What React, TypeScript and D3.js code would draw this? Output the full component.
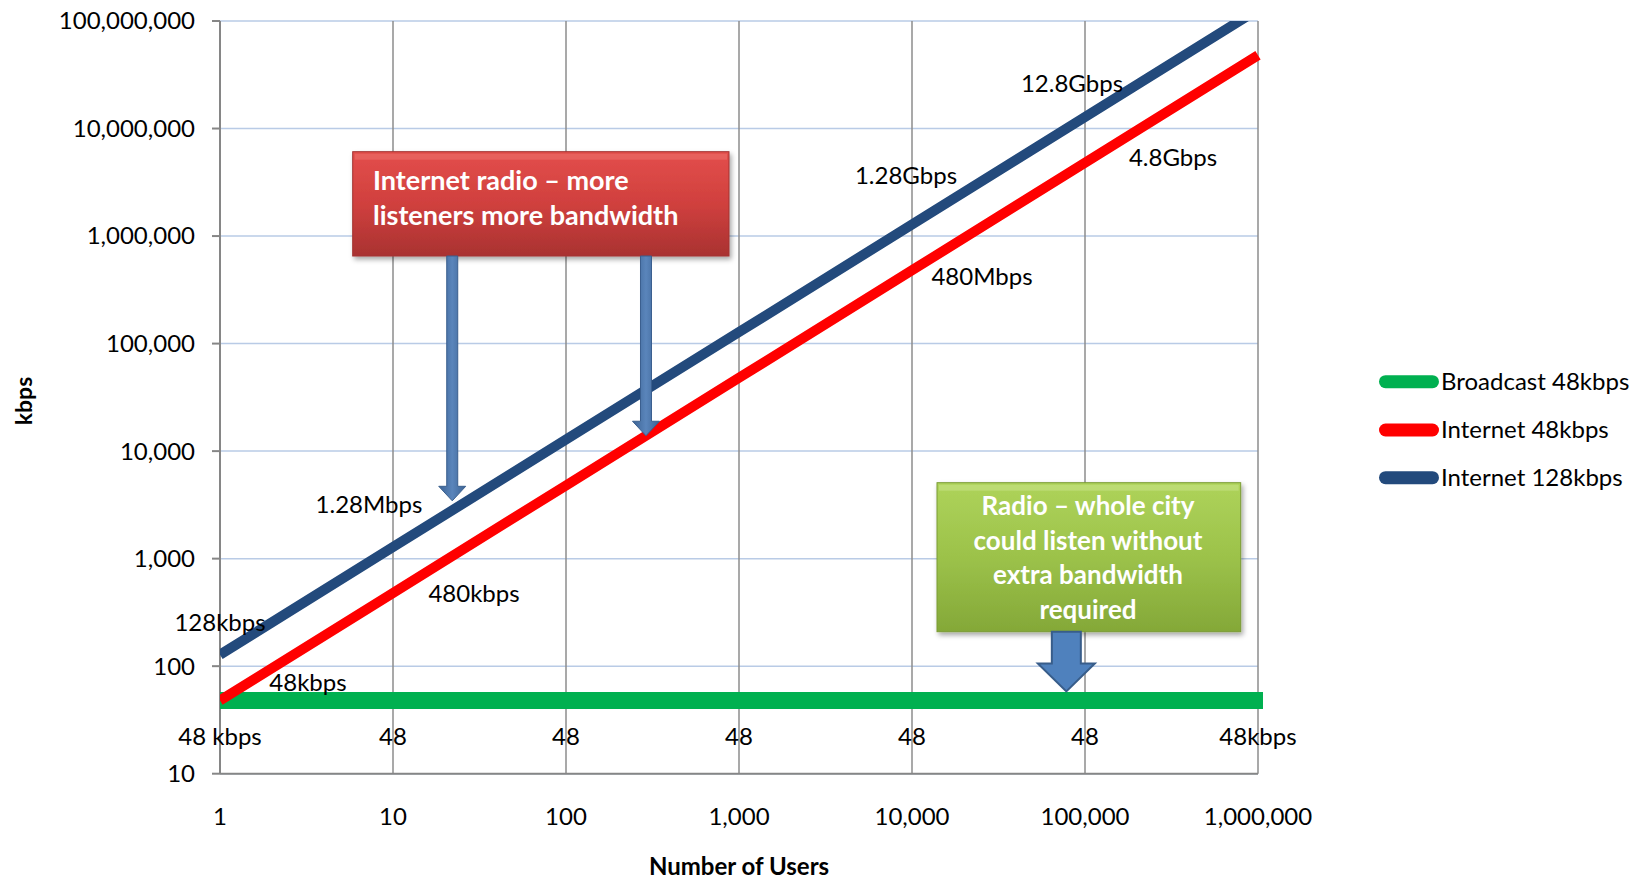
import React from "react";
import * as d3 from "d3";

// ---------- data ----------
const users = [1, 10, 100, 1000, 10000, 100000, 1000000];
const broadcast48 = [48, 48, 48, 48, 48, 48, 48];
const internet48 = [48, 480, 4800, 48000, 480000, 4800000, 48000000];
const internet128 = [128, 1280, 12800, 128000, 1280000, 12800000, 128000000];

const seriesNames = ["Broadcast 48kbps", "Internet 48kbps", "Internet 128kbps"];

const xTickValues = [1, 10, 100, 1000, 10000, 100000, 1000000];
const yTickValues = [10, 100, 1000, 10000, 100000, 1000000, 10000000, 100000000];

const blueLabelUsers = [1, 10, 10000, 100000];
const blueLabelTexts = ["128kbps", "1.28Mbps", "1.28Gbps", "12.8Gbps"];
const redLabelUsers = [1, 10, 10000, 100000];
const redLabelTexts = ["48kbps", "480kbps", "480Mbps", "4.8Gbps"];
const greenLabelTexts = ["48 kbps", "48", "48", "48", "48", "48", "48kbps"];

const redNoteLines = ["Internet radio \u2013 more", "listeners more bandwidth"];
const greenNoteLines = ["Radio \u2013 whole city", "could listen without", "extra bandwidth", "required"];

// ---------- style / layout ----------
const W = 1651;
const H = 883;
const M = { left: 220, right: 1258, top: 21, bottom: 773.7 };
const FONT = "Lato, 'Open Sans', sans-serif";
const FS = 24;
const COLORS = ["#00b050", "#ff0000", "#234a7c"];
const WIDTHS = [17, 10, 10];
const blueOffsets = [[0, -24], [-24, -34], [-6, -41], [-13, -25]];
const redOffsets = [[88, -9], [81, 9], [70, 15], [88, 3]];

export default function App() {
  const x = d3.scaleLog().domain([1, 1000000]).range([M.left, M.right]);
  const y = d3.scaleLog().domain([10, 100000000]).range([M.bottom, M.top]);
  const fmt = d3.format(",");

  const line = d3
    .line<[number, number]>()
    .x((d) => x(d[0]))
    .y((d) => y(d[1]));

  const series = [broadcast48, internet48, internet128].map((vals) =>
    users.map((u, i) => [u, vals[i]] as [number, number])
  );

  // annotation anchors in data space
  const arrow1X = x(22);
  const arrow1Tip = y(3450);
  const arrow2X = x(290);
  const arrow2Tip = y(13900);
  const redBox = { x0: 352.7, y0: 151.7, x1: 729, y1: 256 };
  const greenBox = { x0: 937, y0: 482.7, x1: 1240.7, y1: 631.7 };
  const blockX = x(78000);
  const blockTip = y(48) - 9;

  const thinArrow = (cx: number, top: number, tip: number) => {
    const hw = 13.5;
    const sw = 5.5;
    const hh = 14.5;
    return `M${cx - sw},${top} L${cx + sw},${top} L${cx + sw},${tip - hh} L${cx + hw},${tip - hh} L${cx},${tip} L${cx - hw},${tip - hh} L${cx - sw},${tip - hh} Z`;
  };
  const blockArrow = (cx: number, top: number, tip: number) => {
    const hw = 28.5;
    const sw = 14.5;
    const hh = 28;
    return `M${cx - sw},${top} L${cx + sw},${top} L${cx + sw},${tip - hh} L${cx + hw},${tip - hh} L${cx},${tip} L${cx - hw},${tip - hh} L${cx - sw},${tip - hh} Z`;
  };

  return (
    <svg
      width={W}
      height={H}
      style={{ position: "absolute", left: 0, top: 0, background: "#fff" }}
      fontFamily={FONT}
    >
      <defs>
        <clipPath id="plotClip">
          <rect x={M.left} y={M.top} width={M.right - M.left + 5} height={M.bottom - M.top} />
        </clipPath>
        <linearGradient id="redGrad" x1="0" y1="0" x2="0" y2="1">
          <stop offset="0" stopColor="#e34e4b" />
          <stop offset="0.5" stopColor="#d0403e" />
          <stop offset="1" stopColor="#a93231" />
        </linearGradient>
        <linearGradient id="greenGrad" x1="0" y1="0" x2="0" y2="1">
          <stop offset="0" stopColor="#aed35a" />
          <stop offset="0.5" stopColor="#9cc24a" />
          <stop offset="1" stopColor="#84a838" />
        </linearGradient>
        <linearGradient id="arrowGrad" x1="0" y1="0" x2="1" y2="0">
          <stop offset="0" stopColor="#3c6394" />
          <stop offset="0.5" stopColor="#5a85bb" />
          <stop offset="1" stopColor="#3c6394" />
        </linearGradient>
        <filter id="shadow" x="-10%" y="-10%" width="120%" height="130%">
          <feDropShadow dx="2" dy="3" stdDeviation="2.5" floodColor="#000" floodOpacity="0.35" />
        </filter>
      </defs>

      {/* horizontal gridlines */}
      {yTickValues.map((v) => (
        <line key={"hg" + v} x1={M.left} x2={M.right} y1={y(v)} y2={y(v)} stroke="#b9cbe6" strokeWidth={1.5} />
      ))}
      {/* vertical gridlines */}
      {xTickValues.map((v) => (
        <line key={"vg" + v} x1={x(v)} x2={x(v)} y1={M.top} y2={M.bottom} stroke="#8c8c8c" strokeWidth={1.5} />
      ))}
      {/* axes */}
      <line x1={M.left} x2={M.left} y1={M.top} y2={M.bottom} stroke="#868686" strokeWidth={2} />
      <line x1={M.left} x2={M.right} y1={M.bottom} y2={M.bottom} stroke="#868686" strokeWidth={2} />
      {yTickValues.map((v) => (
        <line key={"yt" + v} x1={M.left - 8} x2={M.left} y1={y(v)} y2={y(v)} stroke="#868686" strokeWidth={2} />
      ))}

      {/* y tick labels */}
      {yTickValues.map((v) => (
        <text key={"yl" + v} x={195} y={y(v)} dy="0.35em" textAnchor="end" fontSize={FS} fill="#000">
          {fmt(v)}
        </text>
      ))}
      {/* x tick labels */}
      {xTickValues.map((v) => (
        <text key={"xl" + v} x={x(v)} y={825} textAnchor="middle" fontSize={FS} fill="#000">
          {fmt(v)}
        </text>
      ))}

      {/* axis titles */}
      <text
        transform={`translate(32,${401}) rotate(-90)`}
        textAnchor="middle"
        fontSize={23}
        fontWeight="bold"
        fill="#000"
      >
        kbps
      </text>
      <text x={739} y={875} textAnchor="middle" fontSize={24} fontWeight="bold" fill="#000">
        Number of Users
      </text>

      {/* series lines */}
      <g clipPath="url(#plotClip)">
        {series.map((s, i) => (
          <path
            key={"s" + i}
            d={line(s) || ""}
            fill="none"
            stroke={COLORS[i]}
            strokeWidth={WIDTHS[i]}
            strokeLinecap={i === 0 ? "square" : "butt"}
          />
        ))}
      </g>

      {/* data labels */}
      {blueLabelUsers.map((u, i) => (
        <text
          key={"bl" + i}
          x={x(u) + blueOffsets[i][0]}
          y={y(internet128[users.indexOf(u)]) + blueOffsets[i][1]}
          textAnchor="middle"
          fontSize={FS}
          fill="#000"
        >
          {blueLabelTexts[i]}
        </text>
      ))}
      {redLabelUsers.map((u, i) => (
        <text
          key={"rl" + i}
          x={x(u) + redOffsets[i][0]}
          y={y(internet48[users.indexOf(u)]) + redOffsets[i][1]}
          textAnchor="middle"
          fontSize={FS}
          fill="#000"
        >
          {redLabelTexts[i]}
        </text>
      ))}
      {users.map((u, i) => (
        <text key={"gl" + i} x={x(u)} y={y(broadcast48[i]) + 44.5} textAnchor="middle" fontSize={FS} fill="#000">
          {greenLabelTexts[i]}
        </text>
      ))}

      {/* red callout */}
      <g filter="url(#shadow)">
        <rect
          x={redBox.x0}
          y={redBox.y0}
          width={redBox.x1 - redBox.x0}
          height={redBox.y1 - redBox.y0}
          fill="url(#redGrad)"
          stroke="#a23230"
          strokeWidth={1}
        />
      </g>
      <rect
        x={redBox.x0 + 2}
        y={redBox.y0 + 2}
        width={redBox.x1 - redBox.x0 - 4}
        height={6}
        fill="#f07a76"
        opacity={0.45}
      />
      {redNoteLines.map((t, i) => (
        <text key={"rn" + i} x={373} y={190 + i * 35} fontSize={27} fontWeight="bold" fill="#fff">
          {t}
        </text>
      ))}
      <path d={thinArrow(arrow1X, redBox.y1, arrow1Tip)} fill="url(#arrowGrad)" stroke="#3a5f8e" strokeWidth={1} />
      <path d={thinArrow(arrow2X, redBox.y1, arrow2Tip)} fill="url(#arrowGrad)" stroke="#3a5f8e" strokeWidth={1} />

      {/* green callout */}
      <g filter="url(#shadow)">
        <rect
          x={greenBox.x0}
          y={greenBox.y0}
          width={greenBox.x1 - greenBox.x0}
          height={greenBox.y1 - greenBox.y0}
          fill="url(#greenGrad)"
          stroke="#7b9c35"
          strokeWidth={1}
        />
      </g>
      <rect
        x={greenBox.x0 + 2}
        y={greenBox.y0 + 2}
        width={greenBox.x1 - greenBox.x0 - 4}
        height={6}
        fill="#cbe58e"
        opacity={0.5}
      />
      {greenNoteLines.map((t, i) => (
        <text key={"gn" + i} x={1088} y={515 + i * 34.5} textAnchor="middle" fontSize={26} fontWeight="bold" fill="#fff">
          {t}
        </text>
      ))}
      <path d={blockArrow(blockX, greenBox.y1, blockTip)} fill="#4f81bd" stroke="#385d8a" strokeWidth={2} />

      {/* legend */}
      {seriesNames.map((n, i) => {
        const ly = [381.7, 430, 477.7][i];
        return (
          <g key={"lg" + i}>
            <line x1={1385.5} x2={1432.5} y1={ly} y2={ly} stroke={COLORS[i]} strokeWidth={13} strokeLinecap="round" />
            <text x={1441} y={ly} dy="0.35em" fontSize={FS} fill="#000">
              {n}
            </text>
          </g>
        );
      })}
    </svg>
  );
}
